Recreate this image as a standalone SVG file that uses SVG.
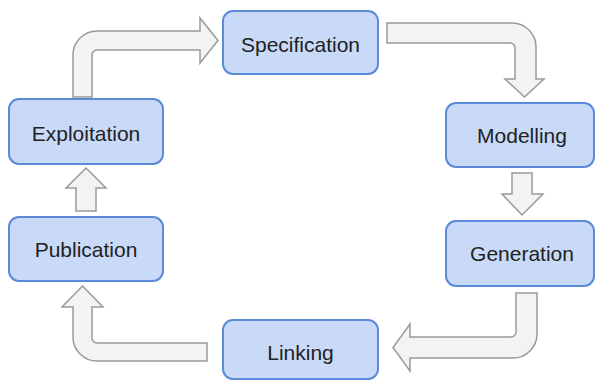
<svg xmlns="http://www.w3.org/2000/svg" width="596" height="381" viewBox="0 0 596 381">
  <style>
    .box { fill: #c9daf8; stroke: #5a8ad8; stroke-width: 2; }
    .lbl { font-family: "Liberation Sans", Arial, sans-serif; font-size: 21px; fill: #222222; text-anchor: middle; }
    .arrow { fill: #f3f3f3; stroke: #9a9a9a; stroke-width: 1.5; stroke-linejoin: miter; }
  </style>
  <rect width="596" height="381" fill="#ffffff"/>

  <!-- block arrows between the stages -->
  <g id="connectors">
    <path class="arrow" d="M73,97 V55 A24,24 0 0 1 97,31 H200 V18 L218,40.5 L200,63 V50 H97 A5,5 0 0 0 92,55 V97 Z"/>
    <path class="arrow" d="M387,23 H512 A24,24 0 0 1 536,47 V79 H544 L524.5,97 L505,79 H515 V48 A5,5 0 0 0 510,43 H387 Z"/>
    <path class="arrow" d="M512,173 H532 V194 H543 L522,215 L502,194 H512 Z"/>
    <path class="arrow" d="M516,293 H537 V334 A24,24 0 0 1 513,358 H410 V371 L393,347.5 L410,324 V337 H511 A5,5 0 0 0 516,332 Z"/>
    <path class="arrow" d="M207,343 H97 A5,5 0 0 1 92,338 V307 H103 L82.5,286 L62,307 H73 V337 A24,24 0 0 0 97,361 H207 Z"/>
    <path class="arrow" d="M76,211 V188 H66 L86,168 L106,188 H96 V211 Z"/>
  </g>

  <g id="specification">
    <rect class="box" x="223" y="11" width="155" height="63" rx="10"/>
    <text class="lbl" x="300.5" y="52">Specification</text>
  </g>
  <g id="modelling">
    <rect class="box" x="446" y="103" width="148" height="64" rx="10"/>
    <text class="lbl" x="522" y="143">Modelling</text>
  </g>
  <g id="generation">
    <rect class="box" x="446" y="221" width="148" height="65" rx="10"/>
    <text class="lbl" x="522" y="261">Generation</text>
  </g>
  <g id="linking">
    <rect class="box" x="223" y="320" width="155" height="59" rx="10"/>
    <text class="lbl" x="300.5" y="360">Linking</text>
  </g>
  <g id="publication">
    <rect class="box" x="9" y="217" width="154" height="64" rx="10"/>
    <text class="lbl" x="86" y="257">Publication</text>
  </g>
  <g id="exploitation">
    <rect class="box" x="9" y="99" width="154" height="65" rx="10"/>
    <text class="lbl" x="86" y="141">Exploitation</text>
  </g>
</svg>
